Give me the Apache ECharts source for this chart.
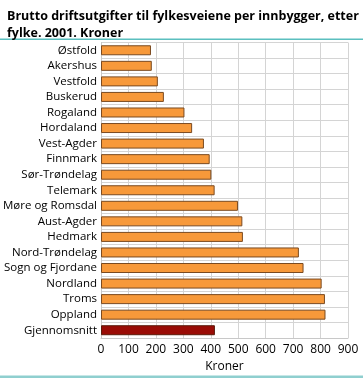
<!DOCTYPE html>
<html><head><meta charset="utf-8">
<script src="https://cdn.jsdelivr.net/npm/echarts@6/dist/echarts.min.js"></script>
<style>html,body{margin:0;padding:0;background:#fff}#c{width:363px;height:378px}</style>
</head><body><div id="c"></div>
<script>
const categories = ["Østfold","Akershus","Vestfold","Buskerud","Rogaland","Hordaland","Vest-Agder","Finnmark","Sør-Trøndelag","Telemark","Møre og Romsdal","Aust-Agder","Hedmark","Nord-Trøndelag","Sogn og Fjordane","Nordland","Troms","Oppland","Gjennomsnitt"];
const values = [182,185,207,229,304,332,375,396,402,414,499,515,517,721,738,804,816,818,415];
const averageLabel = "Gjennomsnitt";
const xTicks = [0,100,200,300,400,500,600,700,800,900];
const titleText = "Brutto driftsutgifter til fylkesveiene per innbygger, etter\nfylke. 2001. Kroner";
const axisName = "Kroner";

const font = "'Open Sans', sans-serif";
const chart = echarts.init(document.getElementById('c'), null, {renderer:'canvas'});
chart.setOption({
  animation:false,
  title:{text:titleText,left:2,top:3,textStyle:{fontFamily:"'Open Sans', sans-serif",fontSize:12.5,fontWeight:'bold',color:'#000',lineHeight:17}},
  graphic:[
    {type:'rect',shape:{x:0,y:38.5,width:363,height:1.5},style:{fill:'#5bbfbf'}},
    {type:'rect',shape:{x:0,y:375.5,width:363,height:2.5},style:{fill:'#8fcfcf'}}
  ],
  grid:{left:99,right:15,top:42.5,bottom:33,containLabel:false},
  xAxis:{type:'value',min:xTicks[0],max:xTicks[xTicks.length-1],interval:100,
    name:axisName,nameLocation:'middle',nameGap:23,nameTextStyle:{fontFamily:font,fontSize:12,color:'#000'},
    axisLine:{show:true,lineStyle:{color:'#c8c8c8'}},axisTick:{show:false},
    axisLabel:{fontFamily:font,fontSize:12,color:'#000',margin:6},
    splitLine:{show:true,lineStyle:{color:'#d4d4d4',width:1}}},
  yAxis:{type:'category',data:categories,inverse:true,
    axisLine:{show:true,lineStyle:{color:'#c8c8c8'}},axisTick:{show:false},
    axisLabel:{fontFamily:font,fontSize:11.5,color:'#000',margin:4,interval:0},
    splitLine:{show:true,interval:0,lineStyle:{color:'#d4d4d4',width:1}}},
  series:[{type:'bar',barWidth:10,
    data:values.map((v,i)=>({value:v,itemStyle:categories[i]===averageLabel?{color:'#9a0c06',borderColor:'#5a1a0a'}:{}})),
    itemStyle:{color:'#f7993a',borderColor:'#7a4a20',borderWidth:1}}]
});
</script></body></html>
